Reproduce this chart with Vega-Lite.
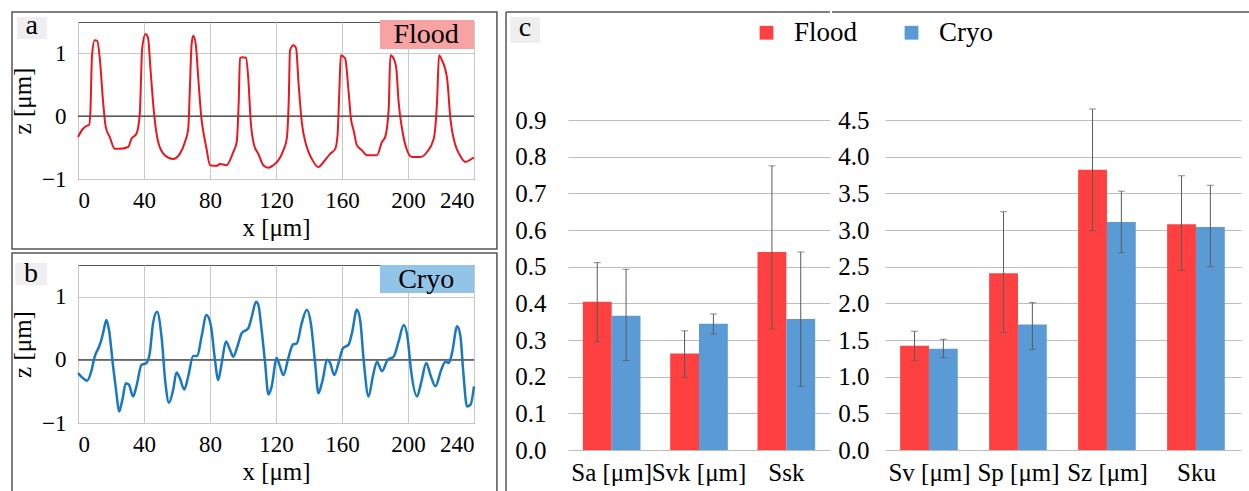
{
  "$schema": "https://vega.github.io/schema/vega-lite/v6.json",
  "padding": {"left": 10, "top": 10, "right": 0, "bottom": 0},
  "background": "white",
  "config": {
    "font": "Liberation Sans Narrow",
    "view": {"stroke": "#555", "strokeWidth": 1},
    "style": {"guide-label": {"font": "Liberation Sans Narrow"}, "guide-title": {"font": "Liberation Sans Narrow"}},
    "axis": {"labelColor": "#000", "titleColor": "#000", "labelFont": "Liberation Sans Narrow", "titleFont": "Liberation Sans Narrow", "titleFontWeight": "normal", "ticks": false, "domain": false, "gridColor": "#c8c8c8", "labelOverlap": false},
    "legend": {"labelFont": "Liberation Sans Narrow", "labelColor": "#000"},
    "text": {"font": "Liberation Sans Narrow"}
  },
  "datasets": {
    "flood": [
      {"x":0,"z":-0.33},{"x":3,"z":-0.2},{"x":5.5,"z":-0.15},{"x":6.7,"z":-0.14},{"x":7.5,"z":0.07},{"x":8.5,"z":0.97},{"x":10.1,"z":1.21},{"x":11.7,"z":1.2},{"x":13.2,"z":0.92},{"x":15.2,"z":0.23},{"x":16.8,"z":-0.17},{"x":19.2,"z":-0.33},{"x":22.3,"z":-0.52},{"x":25.3,"z":-0.52},{"x":30.4,"z":-0.49},{"x":32.4,"z":-0.36},{"x":35.4,"z":-0.28},{"x":37.4,"z":0.02},{"x":38.9,"z":1.08},{"x":40.9,"z":1.31},{"x":42.5,"z":1.24},{"x":43.9,"z":0.76},{"x":46,"z":0.07},{"x":48.6,"z":-0.41},{"x":52.6,"z":-0.62},{"x":57.7,"z":-0.68},{"x":61.7,"z":-0.6},{"x":64.8,"z":-0.41},{"x":66.8,"z":-0.2},{"x":67.8,"z":0.44},{"x":68.8,"z":1.13},{"x":69.8,"z":1.28},{"x":71.3,"z":1.16},{"x":72.9,"z":0.6},{"x":74.9,"z":-0.06},{"x":76.3,"z":-0.3},{"x":77.9,"z":-0.52},{"x":80,"z":-0.78},{"x":84,"z":-0.79},{"x":86,"z":-0.76},{"x":90,"z":-0.78},{"x":94.1,"z":-0.57},{"x":96.2,"z":-0.41},{"x":97.4,"z":0.23},{"x":98.2,"z":0.93},{"x":99.8,"z":0.94},{"x":101.8,"z":0.93},{"x":103.2,"z":0.6},{"x":104.7,"z":-0.09},{"x":106.7,"z":-0.46},{"x":109.3,"z":-0.6},{"x":112.3,"z":-0.78},{"x":115.4,"z":-0.82},{"x":118.4,"z":-0.78},{"x":121.5,"z":-0.7},{"x":124.5,"z":-0.54},{"x":126.5,"z":-0.36},{"x":127.7,"z":0.23},{"x":128.5,"z":1.05},{"x":130.6,"z":1.13},{"x":132.2,"z":1.08},{"x":133.6,"z":0.55},{"x":135.6,"z":-0.09},{"x":138.3,"z":-0.46},{"x":141.7,"z":-0.68},{"x":145.7,"z":-0.81},{"x":148.8,"z":-0.73},{"x":152.8,"z":-0.6},{"x":155.9,"z":-0.52},{"x":157.3,"z":-0.3},{"x":158.5,"z":0.49},{"x":159.3,"z":0.97},{"x":161.9,"z":0.92},{"x":164,"z":0.39},{"x":165.4,"z":-0.04},{"x":167,"z":-0.22},{"x":169,"z":-0.46},{"x":172,"z":-0.54},{"x":175.1,"z":-0.62},{"x":181.2,"z":-0.62},{"x":184.2,"z":-0.41},{"x":186.2,"z":-0.33},{"x":188.3,"z":0.12},{"x":189.3,"z":0.97},{"x":191.3,"z":0.92},{"x":192.9,"z":0.76},{"x":194.3,"z":0.23},{"x":196.4,"z":-0.2},{"x":198.4,"z":-0.46},{"x":202.4,"z":-0.65},{"x":207.5,"z":-0.65},{"x":211.5,"z":-0.57},{"x":215.6,"z":-0.36},{"x":217.6,"z":0.23},{"x":218.8,"z":0.97},{"x":220.6,"z":0.89},{"x":223.7,"z":0.6},{"x":225.7,"z":-0.04},{"x":228.7,"z":-0.46},{"x":231.4,"z":-0.62},{"x":234.8,"z":-0.73},{"x":237.9,"z":-0.69},{"x":240,"z":-0.66}
    ],
    "cryo": [
      {"x":0,"z":-0.21},{"x":3,"z":-0.29},{"x":5.5,"z":-0.33},{"x":8.1,"z":-0.18},{"x":10.1,"z":0.05},{"x":12.8,"z":0.21},{"x":14.2,"z":0.32},{"x":15.6,"z":0.47},{"x":17.2,"z":0.63},{"x":18.8,"z":0.47},{"x":21.3,"z":-0.11},{"x":23.3,"z":-0.53},{"x":24.9,"z":-0.82},{"x":26.9,"z":-0.63},{"x":29,"z":-0.37},{"x":30.8,"z":-0.39},{"x":33.4,"z":-0.58},{"x":35.4,"z":-0.42},{"x":38.5,"z":-0.08},{"x":41.5,"z":-0.05},{"x":43.5,"z":0.11},{"x":45.5,"z":0.58},{"x":47.9,"z":0.76},{"x":50.6,"z":0.37},{"x":53,"z":-0.37},{"x":55.1,"z":-0.68},{"x":57.7,"z":-0.47},{"x":59.7,"z":-0.2},{"x":61.7,"z":-0.29},{"x":64.4,"z":-0.47},{"x":66.8,"z":-0.26},{"x":69.8,"z":0.06},{"x":72.3,"z":0.06},{"x":74.9,"z":0.37},{"x":77.9,"z":0.71},{"x":80.6,"z":0.53},{"x":83,"z":0.0},{"x":85,"z":-0.32},{"x":87.1,"z":-0.05},{"x":89.7,"z":0.29},{"x":92.1,"z":0.16},{"x":94.1,"z":0.05},{"x":96.6,"z":0.21},{"x":99.2,"z":0.42},{"x":103.2,"z":0.5},{"x":105.3,"z":0.68},{"x":107.9,"z":0.92},{"x":109.3,"z":0.87},{"x":111.3,"z":0.47},{"x":113.4,"z":-0.05},{"x":115.4,"z":-0.55},{"x":117.4,"z":-0.42},{"x":120.4,"z":0.03},{"x":122.1,"z":-0.08},{"x":124.5,"z":-0.24},{"x":127.5,"z":0.03},{"x":130.2,"z":0.24},{"x":132.6,"z":0.26},{"x":135.6,"z":0.58},{"x":138.7,"z":0.79},{"x":141.1,"z":0.58},{"x":143.7,"z":-0.05},{"x":145.7,"z":-0.53},{"x":147.8,"z":-0.37},{"x":151.2,"z":0.0},{"x":152.8,"z":-0.05},{"x":155.3,"z":-0.24},{"x":157.9,"z":-0.05},{"x":160.5,"z":0.18},{"x":164,"z":0.24},{"x":166,"z":0.42},{"x":169,"z":0.79},{"x":171.1,"z":0.61},{"x":173.1,"z":0.0},{"x":176.1,"z":-0.58},{"x":178.7,"z":-0.26},{"x":181.2,"z":-0.03},{"x":184.2,"z":-0.18},{"x":187.7,"z":0.0},{"x":191.3,"z":0.05},{"x":194.3,"z":0.29},{"x":197.4,"z":0.55},{"x":199.8,"z":0.34},{"x":201.8,"z":-0.16},{"x":205.5,"z":-0.58},{"x":207.9,"z":-0.37},{"x":211.1,"z":-0.05},{"x":213.6,"z":-0.24},{"x":216.6,"z":-0.42},{"x":220.1,"z":-0.16},{"x":222.7,"z":-0.03},{"x":224.7,"z":-0.05},{"x":226.7,"z":0.11},{"x":229.8,"z":0.53},{"x":231.8,"z":0.37},{"x":233.4,"z":-0.16},{"x":235.8,"z":-0.74},{"x":237.9,"z":-0.71},{"x":240,"z":-0.42}
    ],
    "bars": [
      {"chart":"c1","param":"Sa [μm]","group":"Flood","value":0.404,"lo":0.295,"hi":0.511},
      {"chart":"c1","param":"Sa [μm]","group":"Cryo","value":0.366,"lo":0.244,"hi":0.493},
      {"chart":"c1","param":"Svk [μm]","group":"Flood","value":0.263,"lo":0.198,"hi":0.325},
      {"chart":"c1","param":"Svk [μm]","group":"Cryo","value":0.344,"lo":0.316,"hi":0.371},
      {"chart":"c1","param":"Ssk","group":"Flood","value":0.54,"lo":0.33,"hi":0.775},
      {"chart":"c1","param":"Ssk","group":"Cryo","value":0.357,"lo":0.174,"hi":0.54},
      {"chart":"c2","param":"Sv [μm]","group":"Flood","value":1.42,"lo":1.22,"hi":1.62},
      {"chart":"c2","param":"Sv [μm]","group":"Cryo","value":1.38,"lo":1.26,"hi":1.51},
      {"chart":"c2","param":"Sp [μm]","group":"Flood","value":2.41,"lo":1.6,"hi":3.25},
      {"chart":"c2","param":"Sp [μm]","group":"Cryo","value":1.71,"lo":1.37,"hi":2.01},
      {"chart":"c2","param":"Sz [μm]","group":"Flood","value":3.82,"lo":2.99,"hi":4.65},
      {"chart":"c2","param":"Sz [μm]","group":"Cryo","value":3.11,"lo":2.69,"hi":3.53},
      {"chart":"c2","param":"Sku","group":"Flood","value":3.08,"lo":2.45,"hi":3.74},
      {"chart":"c2","param":"Sku","group":"Cryo","value":3.04,"lo":2.5,"hi":3.61}
    ]
  },
  "hconcat": [
    {
      "vconcat": [
        {
          "width": 396, "height": 157,
          "layer": [
            {
              "data": {"values": [{}]},
              "mark": {"type": "rect", "filled": false, "stroke": "#555", "strokeWidth": 1.5},
              "encoding": {
                "x": {"datum": -40, "type": "quantitative", "scale": {"domain": [0, 240], "nice": false, "zero": false}, "axis": {"values": [0,40,80,120,160,200,240], "format": "d", "grid": true, "labelFont": "Liberation Sans Narrow", "labelFontSize": 23, "labelPadding": 10, "title": "x [μm]", "titleFontSize": 25, "titlePadding": 3}},
                "x2": {"datum": 253.9},
                "y": {"datum": 1.659, "type": "quantitative", "scale": {"domain": [-1, 1.5], "nice": false, "zero": false}, "axis": {"values": [-1,0,1], "format": "d", "grid": true, "labelFont": "Liberation Sans Narrow", "labelFontSize": 23, "labelPadding": 12, "title": "z [μm]", "titleFontSize": 25, "titlePadding": 6}},
                "y2": {"datum": -2.115}
              }
            },
            {
              "data": {"values": [{}]},
              "mark": {"type": "rule", "color": "#333", "strokeWidth": 1.2},
              "encoding": {"y": {"datum": 0, "type": "quantitative", "scale": {"domain": [-1, 1.5], "nice": false, "zero": false}, "axis": {"values": [-1,0,1], "format": "d", "grid": true, "labelFont": "Liberation Sans Narrow", "labelFontSize": 23, "labelPadding": 12, "title": "z [μm]", "titleFontSize": 25, "titlePadding": 6}}}
            },
            {
              "data": {"name": "flood"},
              "mark": {"type": "line", "color": "#e8181e", "strokeWidth": 2, "interpolate": "monotone"},
              "encoding": {
                "x": {"field": "x", "type": "quantitative", "scale": {"domain": [0, 240], "nice": false, "zero": false}, "axis": {"values": [0,40,80,120,160,200,240], "format": "d", "grid": true, "labelFont": "Liberation Sans Narrow", "labelFontSize": 23, "labelPadding": 10, "title": "x [μm]", "titleFontSize": 25, "titlePadding": 3}},
                "y": {"field": "z", "type": "quantitative", "scale": {"domain": [-1, 1.5], "nice": false, "zero": false}, "axis": {"values": [-1,0,1], "format": "d", "grid": true, "labelFont": "Liberation Sans Narrow", "labelFontSize": 23, "labelPadding": 12, "title": "z [μm]", "titleFontSize": 25, "titlePadding": 6}}
              }
            },
            {
              "data": {"values": [{}]},
              "mark": {"type": "rect", "fill": "#f7a3a3"},
              "encoding": {
                "x": {"datum": 183, "type": "quantitative", "scale": {"domain": [0, 240], "nice": false, "zero": false}},
                "x2": {"datum": 240},
                "y": {"datum": 1.532, "type": "quantitative", "scale": {"domain": [-1, 1.5], "nice": false, "zero": false}},
                "y2": {"datum": 1.07}
              }
            },
            {
              "data": {"values": [{}]},
              "mark": {"type": "text", "text": "Flood", "font": "Liberation Sans Narrow", "fontSize": 28, "color": "#000", "baseline": "middle", "align": "center"},
              "encoding": {
                "x": {"datum": 211, "type": "quantitative", "scale": {"domain": [0, 240], "nice": false, "zero": false}},
                "y": {"datum": 1.3, "type": "quantitative", "scale": {"domain": [-1, 1.5], "nice": false, "zero": false}}
              }
            },
            {
              "data": {"values": [{}]},
              "mark": {"type": "rect", "fill": "#efefef"},
              "encoding": {
                "x": {"datum": -37, "type": "quantitative", "scale": {"domain": [0, 240], "nice": false, "zero": false}},
                "x2": {"datum": -18.8},
                "y": {"datum": 1.58, "type": "quantitative", "scale": {"domain": [-1, 1.5], "nice": false, "zero": false}},
                "y2": {"datum": 1.23}
              }
            },
            {
              "data": {"values": [{}]},
              "mark": {"type": "text", "text": "a", "font": "Liberation Sans Narrow", "fontSize": 28, "color": "#000", "baseline": "middle", "align": "center"},
              "encoding": {
                "x": {"datum": -28, "type": "quantitative", "scale": {"domain": [0, 240], "nice": false, "zero": false}},
                "y": {"datum": 1.44, "type": "quantitative", "scale": {"domain": [-1, 1.5], "nice": false, "zero": false}}
              }
            }
          ]
        },
        {
          "width": 396, "height": 158,
          "layer": [
            {
              "data": {"values": [{}]},
              "mark": {"type": "rect", "filled": false, "stroke": "#555", "strokeWidth": 1.5},
              "encoding": {
                "x": {"datum": -40, "type": "quantitative", "scale": {"domain": [0, 240], "nice": false, "zero": false}, "axis": {"values": [0,40,80,120,160,200,240], "format": "d", "grid": true, "labelFont": "Liberation Sans Narrow", "labelFontSize": 23, "labelPadding": 10, "title": "x [μm]", "titleFontSize": 25, "titlePadding": 3}},
                "x2": {"datum": 253.9},
                "y": {"datum": 1.69, "type": "quantitative", "scale": {"domain": [-1, 1.5], "nice": false, "zero": false}, "axis": {"values": [-1,0,1], "format": "d", "grid": true, "labelFont": "Liberation Sans Narrow", "labelFontSize": 23, "labelPadding": 12, "title": "z [μm]", "titleFontSize": 25, "titlePadding": 6}},
                "y2": {"datum": -2.218}
              }
            },
            {
              "data": {"values": [{}]},
              "mark": {"type": "rule", "color": "#333", "strokeWidth": 1.2},
              "encoding": {"y": {"datum": 0, "type": "quantitative", "scale": {"domain": [-1, 1.5], "nice": false, "zero": false}, "axis": {"values": [-1,0,1], "format": "d", "grid": true, "labelFont": "Liberation Sans Narrow", "labelFontSize": 23, "labelPadding": 12, "title": "z [μm]", "titleFontSize": 25, "titlePadding": 6}}}
            },
            {
              "data": {"name": "cryo"},
              "mark": {"type": "line", "color": "#1a78c0", "strokeWidth": 2.5, "interpolate": "monotone"},
              "encoding": {
                "x": {"field": "x", "type": "quantitative", "scale": {"domain": [0, 240], "nice": false, "zero": false}, "axis": {"values": [0,40,80,120,160,200,240], "format": "d", "grid": true, "labelFont": "Liberation Sans Narrow", "labelFontSize": 23, "labelPadding": 10, "title": "x [μm]", "titleFontSize": 25, "titlePadding": 3}},
                "y": {"field": "z", "type": "quantitative", "scale": {"domain": [-1, 1.5], "nice": false, "zero": false}, "axis": {"values": [-1,0,1], "format": "d", "grid": true, "labelFont": "Liberation Sans Narrow", "labelFontSize": 23, "labelPadding": 12, "title": "z [μm]", "titleFontSize": 25, "titlePadding": 6}}
              }
            },
            {
              "data": {"values": [{}]},
              "mark": {"type": "rect", "fill": "#92c4e8"},
              "encoding": {
                "x": {"datum": 183, "type": "quantitative", "scale": {"domain": [0, 240], "nice": false, "zero": false}},
                "x2": {"datum": 240},
                "y": {"datum": 1.5, "type": "quantitative", "scale": {"domain": [-1, 1.5], "nice": false, "zero": false}},
                "y2": {"datum": 1.057}
              }
            },
            {
              "data": {"values": [{}]},
              "mark": {"type": "text", "text": "Cryo", "font": "Liberation Sans Narrow", "fontSize": 28, "color": "#000", "baseline": "middle", "align": "center"},
              "encoding": {
                "x": {"datum": 211, "type": "quantitative", "scale": {"domain": [0, 240], "nice": false, "zero": false}},
                "y": {"datum": 1.27, "type": "quantitative", "scale": {"domain": [-1, 1.5], "nice": false, "zero": false}}
              }
            },
            {
              "data": {"values": [{}]},
              "mark": {"type": "rect", "fill": "#efefef"},
              "encoding": {
                "x": {"datum": -38, "type": "quantitative", "scale": {"domain": [0, 240], "nice": false, "zero": false}},
                "x2": {"datum": -18.8},
                "y": {"datum": 1.532, "type": "quantitative", "scale": {"domain": [-1, 1.5], "nice": false, "zero": false}},
                "y2": {"datum": 1.184}
              }
            },
            {
              "data": {"values": [{}]},
              "mark": {"type": "text", "text": "b", "font": "Liberation Sans Narrow", "fontSize": 28, "color": "#000", "baseline": "middle", "align": "center"},
              "encoding": {
                "x": {"datum": -28.5, "type": "quantitative", "scale": {"domain": [0, 240], "nice": false, "zero": false}},
                "y": {"datum": 1.36, "type": "quantitative", "scale": {"domain": [-1, 1.5], "nice": false, "zero": false}}
              }
            }
          ]
        }
      ],
      "spacing": 0
    },
    {
      "hconcat": [
        {
          "width": 262, "height": 428,
          "view": {"stroke": null},
          "layer": [
            {
              "data": {"name": "bars"},
              "transform": [{"filter": "datum.chart === 'c1'"}],
              "encoding": {
                "x": {"field": "param", "type": "nominal", "sort": null, "scale": {"paddingInner": 0.34, "paddingOuter": 0.17}, "axis": {"title": null, "labelAngle": 0, "labelFont": "Liberation Sans Narrow", "labelFontSize": 25, "labelPadding": 10, "grid": false}},
                "xOffset": {"field": "group", "type": "nominal", "sort": ["Flood", "Cryo"], "scale": {"domain": ["Flood", "Cryo"], "paddingInner": 0}},
                "y": {"field": "value", "type": "quantitative", "scale": {"domain": [0, 1.1673], "nice": false, "zero": false}, "axis": {"title": null, "values": [0,0.1,0.2,0.3,0.4,0.5,0.6,0.7,0.8,0.9], "format": ".1f", "labelFont": "Liberation Sans Narrow", "labelFontSize": 25, "labelPadding": 22, "gridColor": "#bdbdbd", "grid": true}}
              },
              "layer": [
                {
                  "mark": {"type": "bar"},
                  "encoding": {
                    "color": {"field": "group", "type": "nominal", "scale": {"domain": ["Flood", "Cryo"], "range": ["#ff4040", "#5b9bd5"]}, "legend": {"orient": "none", "legendX": 675, "legendY": -3, "direction": "horizontal", "title": null, "symbolType": "square", "symbolSize": 190, "symbolStrokeWidth": 0, "labelFont": "Liberation Sans Narrow", "labelFontSize": 27, "labelOffset": 14, "columnPadding": 40, "padding": 0}}
                  }
                },
                {
                  "mark": {"type": "rule", "color": "#5a5a5a", "strokeWidth": 1},
                  "encoding": {"y": {"field": "lo", "type": "quantitative", "scale": {"domain": [0, 1.1673], "nice": false, "zero": false}, "axis": {"title": null, "values": [0,0.1,0.2,0.3,0.4,0.5,0.6,0.7,0.8,0.9], "format": ".1f", "labelFont": "Liberation Sans Narrow", "labelFontSize": 25, "labelPadding": 22, "gridColor": "#bdbdbd", "grid": true}}, "y2": {"field": "hi"}}
                },
                {
                  "mark": {"type": "tick", "color": "#5a5a5a", "thickness": 1, "size": 7},
                  "encoding": {"y": {"field": "lo", "type": "quantitative", "scale": {"domain": [0, 1.1673], "nice": false, "zero": false}, "axis": {"title": null, "values": [0,0.1,0.2,0.3,0.4,0.5,0.6,0.7,0.8,0.9], "format": ".1f", "labelFont": "Liberation Sans Narrow", "labelFontSize": 25, "labelPadding": 22, "gridColor": "#bdbdbd", "grid": true}}}
                },
                {
                  "mark": {"type": "tick", "color": "#5a5a5a", "thickness": 1, "size": 7},
                  "encoding": {"y": {"field": "hi", "type": "quantitative", "scale": {"domain": [0, 1.1673], "nice": false, "zero": false}, "axis": {"title": null, "values": [0,0.1,0.2,0.3,0.4,0.5,0.6,0.7,0.8,0.9], "format": ".1f", "labelFont": "Liberation Sans Narrow", "labelFontSize": 25, "labelPadding": 22, "gridColor": "#bdbdbd", "grid": true}}}
                }
              ]
            },
            {
              "data": {"values": [{}]},
              "layer": [
                {
                  "mark": {"type": "rule", "color": "#555", "strokeWidth": 1.5},
                  "encoding": {
                    "x": {"datum": -0.2366, "type": "quantitative", "scale": {"domain": [0, 1], "nice": false, "zero": false}, "axis": null},
                    "y": {"datum": 1.1946, "type": "quantitative", "scale": {"domain": [0, 1.1673], "nice": false, "zero": false}, "axis": {"title": null, "values": [0,0.1,0.2,0.3,0.4,0.5,0.6,0.7,0.8,0.9], "format": ".1f", "labelFont": "Liberation Sans Narrow", "labelFontSize": 25, "labelPadding": 22, "gridColor": "#bdbdbd", "grid": true}},
                    "y2": {"datum": -0.1418}
                  }
                },
                {
                  "mark": {"type": "rule", "color": "#555", "strokeWidth": 1.5},
                  "encoding": {
                    "x": {"datum": -0.2366, "type": "quantitative", "scale": {"domain": [0, 1], "nice": false, "zero": false}, "axis": null},
                    "x2": {"datum": 1.0},
                    "y": {"datum": 1.1946, "type": "quantitative", "scale": {"domain": [0, 1.1673], "nice": false, "zero": false}, "axis": {"title": null, "values": [0,0.1,0.2,0.3,0.4,0.5,0.6,0.7,0.8,0.9], "format": ".1f", "labelFont": "Liberation Sans Narrow", "labelFontSize": 25, "labelPadding": 22, "gridColor": "#bdbdbd", "grid": true}}
                  }
                },
                {
                  "mark": {"type": "rect", "fill": "#efefef"},
                  "encoding": {
                    "x": {"datum": -0.2214, "type": "quantitative", "scale": {"domain": [0, 1], "nice": false, "zero": false}, "axis": null},
                    "x2": {"datum": -0.1069},
                    "y": {"datum": 1.1809, "type": "quantitative", "scale": {"domain": [0, 1.1673], "nice": false, "zero": false}, "axis": {"title": null, "values": [0,0.1,0.2,0.3,0.4,0.5,0.6,0.7,0.8,0.9], "format": ".1f", "labelFont": "Liberation Sans Narrow", "labelFontSize": 25, "labelPadding": 22, "gridColor": "#bdbdbd", "grid": true}},
                    "y2": {"datum": 1.11}
                  }
                },
                {
                  "mark": {"type": "text", "text": "c", "font": "Liberation Sans Narrow", "fontSize": 28, "color": "#000", "baseline": "middle", "align": "center"},
                  "encoding": {
                    "x": {"datum": -0.1641, "type": "quantitative", "scale": {"domain": [0, 1], "nice": false, "zero": false}, "axis": null},
                    "y": {"datum": 1.152, "type": "quantitative", "scale": {"domain": [0, 1.1673], "nice": false, "zero": false}, "axis": {"title": null, "values": [0,0.1,0.2,0.3,0.4,0.5,0.6,0.7,0.8,0.9], "format": ".1f", "labelFont": "Liberation Sans Narrow", "labelFontSize": 25, "labelPadding": 22, "gridColor": "#bdbdbd", "grid": true}}
                  }
                }
              ]
            }
          ],
          "resolve": {"scale": {"x": "independent"}, "axis": {"x": "independent"}}
        },
        {
          "width": 356, "height": 428,
          "view": {"stroke": null},
          "layer": [
            {
              "data": {"name": "bars"},
              "transform": [{"filter": "datum.chart === 'c2'"}],
              "encoding": {
                "x": {"field": "param", "type": "nominal", "sort": null, "scale": {"paddingInner": 0.34, "paddingOuter": 0.17}, "axis": {"title": null, "labelAngle": 0, "labelFont": "Liberation Sans Narrow", "labelFontSize": 25, "labelPadding": 10, "grid": false}},
                "xOffset": {"field": "group", "type": "nominal", "sort": ["Flood", "Cryo"], "scale": {"domain": ["Flood", "Cryo"], "paddingInner": 0}},
                "y": {"field": "value", "type": "quantitative", "scale": {"domain": [0, 5.8365], "nice": false, "zero": false}, "axis": {"title": null, "values": [0,0.5,1,1.5,2,2.5,3,3.5,4,4.5], "format": ".1f", "labelFont": "Liberation Sans Narrow", "labelFontSize": 25, "labelPadding": 16, "gridColor": "#bdbdbd", "grid": true}}
              },
              "layer": [
                {
                  "mark": {"type": "bar"},
                  "encoding": {
                    "color": {"field": "group", "type": "nominal", "scale": {"domain": ["Flood", "Cryo"], "range": ["#ff4040", "#5b9bd5"]}, "legend": {"orient": "none", "legendX": 675, "legendY": -3, "direction": "horizontal", "title": null, "symbolType": "square", "symbolSize": 190, "symbolStrokeWidth": 0, "labelFont": "Liberation Sans Narrow", "labelFontSize": 27, "labelOffset": 14, "columnPadding": 40, "padding": 0}}
                  }
                },
                {
                  "mark": {"type": "rule", "color": "#5a5a5a", "strokeWidth": 1},
                  "encoding": {"y": {"field": "lo", "type": "quantitative", "scale": {"domain": [0, 5.8365], "nice": false, "zero": false}, "axis": {"title": null, "values": [0,0.5,1,1.5,2,2.5,3,3.5,4,4.5], "format": ".1f", "labelFont": "Liberation Sans Narrow", "labelFontSize": 25, "labelPadding": 16, "gridColor": "#bdbdbd", "grid": true}}, "y2": {"field": "hi"}}
                },
                {
                  "mark": {"type": "tick", "color": "#5a5a5a", "thickness": 1, "size": 7},
                  "encoding": {"y": {"field": "lo", "type": "quantitative", "scale": {"domain": [0, 5.8365], "nice": false, "zero": false}, "axis": {"title": null, "values": [0,0.5,1,1.5,2,2.5,3,3.5,4,4.5], "format": ".1f", "labelFont": "Liberation Sans Narrow", "labelFontSize": 25, "labelPadding": 16, "gridColor": "#bdbdbd", "grid": true}}}
                },
                {
                  "mark": {"type": "tick", "color": "#5a5a5a", "thickness": 1, "size": 7},
                  "encoding": {"y": {"field": "hi", "type": "quantitative", "scale": {"domain": [0, 5.8365], "nice": false, "zero": false}, "axis": {"title": null, "values": [0,0.5,1,1.5,2,2.5,3,3.5,4,4.5], "format": ".1f", "labelFont": "Liberation Sans Narrow", "labelFontSize": 25, "labelPadding": 16, "gridColor": "#bdbdbd", "grid": true}}}
                }
              ]
            },
            {
              "data": {"values": [{}]},
              "mark": {"type": "rule", "color": "#555", "strokeWidth": 1.5},
              "encoding": {
                "x": {"datum": -0.1489, "type": "quantitative", "scale": {"domain": [0, 1], "nice": false, "zero": false}, "axis": null},
                "x2": {"datum": 1.06},
                "y": {"datum": 5.973, "type": "quantitative", "scale": {"domain": [0, 5.8365], "nice": false, "zero": false}, "axis": {"title": null, "values": [0,0.5,1,1.5,2,2.5,3,3.5,4,4.5], "format": ".1f", "labelFont": "Liberation Sans Narrow", "labelFontSize": 25, "labelPadding": 16, "gridColor": "#bdbdbd", "grid": true}}
              }
            }
          ],
          "resolve": {"scale": {"x": "independent"}, "axis": {"x": "independent"}}
        }
      ],
      "spacing": 0
    }
  ],
  "spacing": 6
}
